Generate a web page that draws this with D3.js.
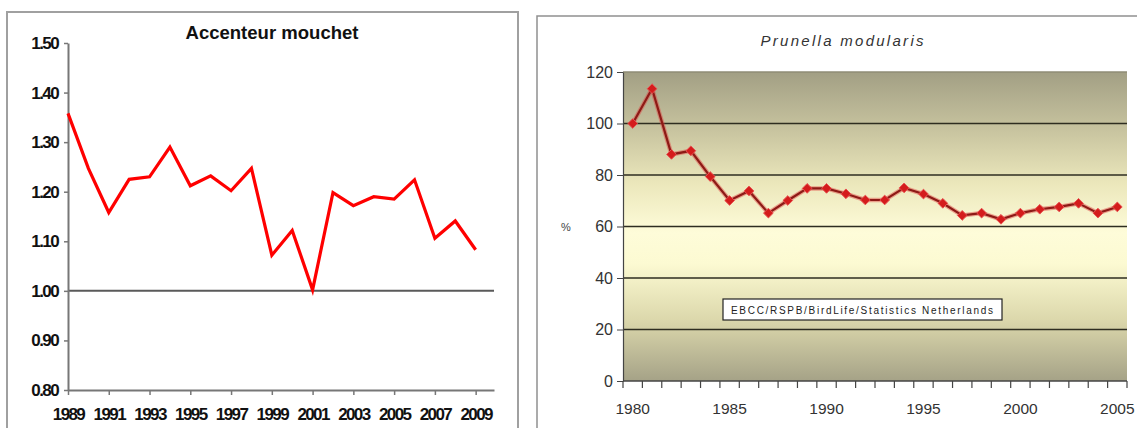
<!DOCTYPE html>
<html><head><meta charset="utf-8">
<script src="https://cdn.jsdelivr.net/npm/d3@7"></script>
<style>
html,body{margin:0;padding:0;background:#fff;}
svg{display:block;}
</style></head>
<body>
<svg id="c" width="1137" height="428"></svg>
<script>
// ---- Left chart data (Accenteur mouchet) ----
const leftYears = [1989,1990,1991,1992,1993,1994,1995,1996,1997,1998,1999,2000,2001,2002,2003,2004,2005,2006,2007,2008,2009];
const leftValues = [1.358,1.247,1.158,1.225,1.23,1.29,1.212,1.232,1.202,1.247,1.072,1.122,1.002,1.198,1.172,1.19,1.185,1.224,1.106,1.141,1.083];
const leftXTicks = [1989,1991,1993,1995,1997,1999,2001,2003,2005,2007,2009];
const leftYTicks = [0.8,0.9,1.0,1.1,1.2,1.3,1.4,1.5];
const leftTitle = "Accenteur mouchet";

// ---- Right chart data (Prunella modularis) ----
const rightYears = d3.range(1980, 2006);
const rightValues = [100,113.5,88,89.4,79.4,70.1,73.8,65.2,70.1,74.8,74.8,72.7,70.3,70.3,75,72.6,69,64.3,65.2,62.8,65.2,66.7,67.6,69,65.2,67.6];
const rightXLabels = [1980,1985,1990,1995,2000,2005];
const rightYTicks = [0,20,40,60,80,100,120];
const rightTitle = "Prunella modularis";
const rightSource = "EBCC/RSPB/BirdLife/Statistics Netherlands";

const svg = d3.select("#c");
const FONT = "'Liberation Sans', Arial, sans-serif";

// ================= LEFT =================
const L = svg.append("g");
L.append("rect").attr("x",7).attr("y",12).attr("width",511).attr("height",440)
  .attr("fill","#fff").attr("stroke","#a0a0a0").attr("stroke-width",2);

const lx = d3.scaleLinear().domain([1989, 2009.9]).range([68, 494]);
const ly = d3.scaleLinear().domain([0.8, 1.5]).range([390, 43]);

// reference line at 1.00
L.append("line").attr("x1",lx(1989)).attr("x2",lx(2009.9)).attr("y1",ly(1.0)).attr("y2",ly(1.0))
  .attr("stroke","#5a5a5a").attr("stroke-width",2);

const lyAxis = L.append("g").attr("transform","translate(68,0)")
  .call(d3.axisLeft(ly).tickValues(leftYTicks).tickFormat(d3.format(".2f")).tickSize(4).tickSizeOuter(0).tickPadding(6));
const lxAxis = L.append("g").attr("transform","translate(0,390)")
  .call(d3.axisBottom(lx).tickValues(leftXTicks).tickFormat(d3.format("d")).tickSize(5).tickSizeOuter(0).tickPadding(13));
[lyAxis, lxAxis].forEach(a=>{
  a.select(".domain").attr("stroke","#777").attr("stroke-width",2);
  a.selectAll(".tick line").attr("stroke","#777").attr("stroke-width",1.5);
  a.selectAll(".tick text").attr("fill","#111").style("font-family",FONT)
    .style("font-size","17px").style("font-weight","bold").style("letter-spacing","-1.6px");
});
lxAxis.selectAll(".tick text").attr("dy","0.71em");

L.append("path").datum(leftYears.map((y,i)=>[y,leftValues[i]]))
  .attr("fill","none").attr("stroke","#ff0000").attr("stroke-width",3.2).attr("stroke-linejoin","miter")
  .attr("d", d3.line().x(d=>lx(d[0])).y(d=>ly(d[1])));

L.append("text").attr("x",272).attr("y",39).attr("text-anchor","middle")
  .style("font-family",FONT).style("font-size","19px").style("font-weight","bold")
  .attr("textLength",173).attr("lengthAdjust","spacingAndGlyphs").attr("fill","#111").text(leftTitle);

// ================= RIGHT =================
const R = svg.append("g");
R.append("rect").attr("x",537).attr("y",16).attr("width",620).attr("height",440)
  .attr("fill","#fff").attr("stroke","#909090").attr("stroke-width",1.5);

const rx = d3.scaleBand().domain(rightYears).range([623, 1127]).padding(0);
const ry = d3.scaleLinear().domain([0, 120]).range([381, 72]);

const defs = svg.append("defs");
const grad = defs.append("linearGradient").attr("id","bg").attr("x1",0).attr("y1",0).attr("x2",0).attr("y2",1);
[[0,"#a29f84"],[0.18,"#c6c29e"],[0.36,"#ebe7bb"],[0.52,"#fefcd9"],[0.62,"#fcfad2"],[0.8,"#dcd8ac"],[1,"#a5a287"]]
  .forEach(s=>grad.append("stop").attr("offset",s[0]).attr("stop-color",s[1]));

R.append("rect").attr("x",623).attr("y",ry(120)).attr("width",1127-623).attr("height",ry(0)-ry(120))
  .attr("fill","url(#bg)");

// gridlines
R.append("g").selectAll("line").data(rightYTicks.filter(d=>d>0)).join("line")
  .attr("x1",623).attr("x2",1127).attr("y1",d=>ry(d)).attr("y2",d=>ry(d))
  .attr("stroke", d=>d===120?"#8f8c76":"#2e2d20").attr("stroke-width",1.4);

const ryAxis = R.append("g").attr("transform","translate(623,0)")
  .call(d3.axisLeft(ry).tickValues(rightYTicks).tickSize(6).tickSizeOuter(0).tickPadding(4));
ryAxis.select(".domain").attr("stroke","#444").attr("stroke-width",1.2);
ryAxis.selectAll(".tick line").attr("stroke","#444");
ryAxis.selectAll(".tick text").attr("fill","#333").style("font-family",FONT).style("font-size","16px");

// x axis: baseline + ticks at category boundaries
const rxg = R.append("g");
rxg.append("line").attr("x1",623).attr("x2",1127).attr("y1",ry(0)).attr("y2",ry(0)).attr("stroke","#444").attr("stroke-width",1.4);
const bounds = rightYears.map(y=>rx(y)).concat([rx(2005)+rx.bandwidth()]);
rxg.selectAll("line.t").data(bounds).join("line").attr("class","t")
  .attr("x1",d=>d).attr("x2",d=>d).attr("y1",ry(0)).attr("y2",ry(0)+7).attr("stroke","#444").attr("stroke-width",1.2);
rxg.selectAll("text").data(rightXLabels).join("text")
  .attr("x",d=>rx(d)+rx.bandwidth()/2).attr("y",414).attr("text-anchor","middle")
  .attr("fill","#333").style("font-family",FONT).style("font-size","15.5px").text(d=>d);

// % label
R.append("text").attr("x",566).attr("y",ry(60)+4).attr("text-anchor","middle")
  .attr("fill","#444").style("font-family",FONT).style("font-size","11px").text("%");

// source box
R.append("rect").attr("x",723).attr("y",299).attr("width",279).attr("height",21)
  .attr("fill","#fff").attr("stroke","#222").attr("stroke-width",1.2);
R.append("text").attr("x",862).attr("y",313.5).attr("text-anchor","middle")
  .attr("fill","#222").style("font-family",FONT).style("font-size","10px")
  .attr("textLength",262).attr("lengthAdjust","spacing").text(rightSource);

// line + markers
const rpts = rightYears.map((y,i)=>[rx(y)+rx.bandwidth()/2, ry(rightValues[i])]);
R.append("path").datum(rpts).attr("fill","none").attr("stroke","#e04040").attr("stroke-opacity",0.45)
  .attr("stroke-width",4.5).attr("d",d3.line());
R.append("path").datum(rpts).attr("fill","none").attr("stroke","#8e1a16").attr("stroke-width",2.2)
  .attr("d",d3.line());
R.append("g").selectAll("path").data(rpts).join("path")
  .attr("transform",d=>`translate(${d[0]},${d[1]})`)
  .attr("d",d3.symbol(d3.symbolDiamond2 || d3.symbolDiamond, 60)())
  .attr("fill","#d41c1c").attr("stroke","#e85050").attr("stroke-width",1);

R.append("text").attr("x",842).attr("y",46).attr("text-anchor","middle")
  .attr("fill","#333").style("font-family",FONT).style("font-size","15px").style("font-style","italic")
  .attr("textLength",163).attr("lengthAdjust","spacing").text(rightTitle);
</script>
</body></html>
